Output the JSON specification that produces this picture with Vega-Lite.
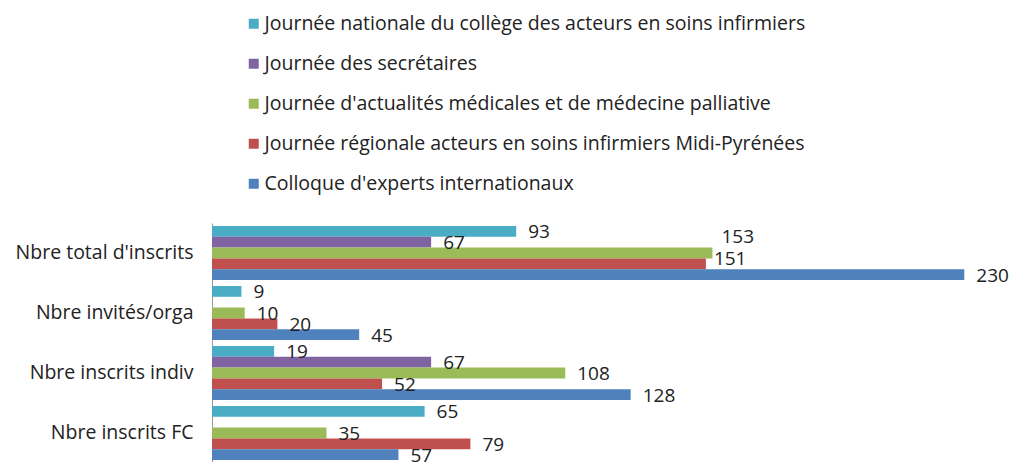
{
  "$schema": "https://vega.github.io/schema/vega-lite/v6.json",
  "autosize": {"type": "none"},
  "padding": {"left": 212, "top": 223, "right": 19, "bottom": 0},
  "width": 785,
  "height": 240,
  "background": "white",
  "config": {"view": {"stroke": null}, "font": "Open Sans"},
  "data": {
    "values": [
      {"cat": "Nbre total d'inscrits", "serie": "Journée nationale du collège des acteurs en soins infirmiers", "v": 93},
      {"cat": "Nbre total d'inscrits", "serie": "Journée des secrétaires", "v": 67},
      {"cat": "Nbre total d'inscrits", "serie": "Journée d'actualités médicales et de médecine palliative", "v": 153},
      {"cat": "Nbre total d'inscrits", "serie": "Journée régionale acteurs en soins infirmiers Midi-Pyrénées", "v": 151},
      {"cat": "Nbre total d'inscrits", "serie": "Colloque d'experts internationaux", "v": 230},
      {"cat": "Nbre invités/orga", "serie": "Journée nationale du collège des acteurs en soins infirmiers", "v": 9},
      {"cat": "Nbre invités/orga", "serie": "Journée d'actualités médicales et de médecine palliative", "v": 10},
      {"cat": "Nbre invités/orga", "serie": "Journée régionale acteurs en soins infirmiers Midi-Pyrénées", "v": 20},
      {"cat": "Nbre invités/orga", "serie": "Colloque d'experts internationaux", "v": 45},
      {"cat": "Nbre inscrits indiv", "serie": "Journée nationale du collège des acteurs en soins infirmiers", "v": 19},
      {"cat": "Nbre inscrits indiv", "serie": "Journée des secrétaires", "v": 67},
      {"cat": "Nbre inscrits indiv", "serie": "Journée d'actualités médicales et de médecine palliative", "v": 108},
      {"cat": "Nbre inscrits indiv", "serie": "Journée régionale acteurs en soins infirmiers Midi-Pyrénées", "v": 52},
      {"cat": "Nbre inscrits indiv", "serie": "Colloque d'experts internationaux", "v": 128},
      {"cat": "Nbre inscrits FC", "serie": "Journée nationale du collège des acteurs en soins infirmiers", "v": 65},
      {"cat": "Nbre inscrits FC", "serie": "Journée d'actualités médicales et de médecine palliative", "v": 35},
      {"cat": "Nbre inscrits FC", "serie": "Journée régionale acteurs en soins infirmiers Midi-Pyrénées", "v": 79},
      {"cat": "Nbre inscrits FC", "serie": "Colloque d'experts internationaux", "v": 57}
    ]
  },
  "encoding": {
    "y": {
      "field": "cat", "type": "nominal",
      "sort": ["Nbre total d'inscrits", "Nbre invités/orga", "Nbre inscrits indiv", "Nbre inscrits FC"],
      "scale": {"paddingInner": 0.1, "paddingOuter": 0.05},
      "axis": {"title": null, "ticks": false, "labelFontSize": 19.5, "labelColor": "#222", "labelPadding": 19, "domainColor": "#999", "labelFont": "Open Sans"}
    },
    "yOffset": {
      "field": "serie", "type": "nominal",
      "sort": ["Journée nationale du collège des acteurs en soins infirmiers", "Journée des secrétaires", "Journée d'actualités médicales et de médecine palliative", "Journée régionale acteurs en soins infirmiers Midi-Pyrénées", "Colloque d'experts internationaux"],
      "scale": {"domain": ["Journée nationale du collège des acteurs en soins infirmiers", "Journée des secrétaires", "Journée d'actualités médicales et de médecine palliative", "Journée régionale acteurs en soins infirmiers Midi-Pyrénées", "Colloque d'experts internationaux"], "padding": 0}
    },
    "x": {
      "field": "v", "type": "quantitative",
      "scale": {"domain": [0, 240], "nice": false},
      "axis": null
    }
  },
  "layer": [
    {
      "mark": {"type": "bar"},
      "encoding": {
        "color": {
          "field": "serie", "type": "nominal",
          "scale": {
            "domain": ["Journée nationale du collège des acteurs en soins infirmiers", "Journée des secrétaires", "Journée d'actualités médicales et de médecine palliative", "Journée régionale acteurs en soins infirmiers Midi-Pyrénées", "Colloque d'experts internationaux"],
            "range": ["#4BACC6", "#8064A2", "#9BBB59", "#C0504D", "#4F81BD"]
          },
          "legend": {
            "title": null, "orient": "none", "legendX": 32, "legendY": -209,
            "symbolType": "square", "symbolSize": 100, "symbolStrokeWidth": 0, "symbolOpacity": 1,
            "labelFontSize": 19.5, "labelColor": "#222", "labelLimit": 800, "rowPadding": 19, "labelOffset": 1, "labelFont": "Open Sans"
          }
        }
      }
    },
    {
      "transform": [{"filter": "datum.v != 153 && datum.v != 151"}],
      "mark": {"type": "text", "align": "left", "baseline": "middle", "dx": 12, "dy": 1, "fontSize": 19, "color": "#222", "font": "Open Sans"},
      "encoding": {"text": {"field": "v", "type": "quantitative"}}
    },
    {
      "transform": [{"filter": "datum.v == 153"}],
      "mark": {"type": "text", "align": "left", "baseline": "middle", "dx": 9, "dy": -16, "fontSize": 19, "color": "#222", "font": "Open Sans"},
      "encoding": {"text": {"field": "v", "type": "quantitative"}}
    },
    {
      "transform": [{"filter": "datum.v == 151"}],
      "mark": {"type": "text", "align": "left", "baseline": "middle", "dx": 8, "dy": -5, "fontSize": 19, "color": "#222", "font": "Open Sans"},
      "encoding": {"text": {"field": "v", "type": "quantitative"}}
    }
  ]
}
